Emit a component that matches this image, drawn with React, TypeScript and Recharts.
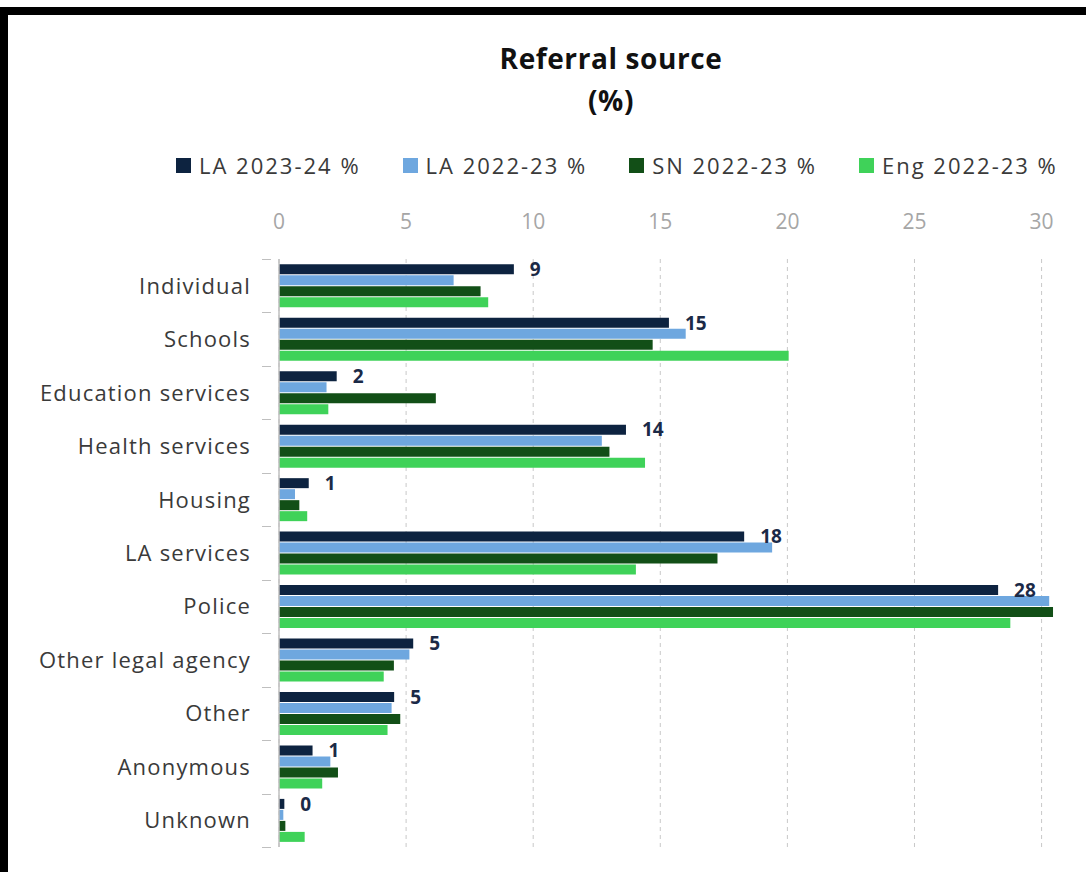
import React from 'react';
import { BarChart, Bar, XAxis, YAxis, CartesianGrid, Legend, LabelList } from 'recharts';

const categories = ['Individual', 'Schools', 'Education services', 'Health services', 'Housing', 'LA services', 'Police', 'Other legal agency', 'Other', 'Anonymous', 'Unknown'];
const la2324 = [9.24, 15.34, 2.27, 13.65, 1.17, 18.3, 28.29, 5.28, 4.53, 1.32, 0.21];
const la2223 = [6.87, 16.0, 1.87, 12.7, 0.63, 19.4, 30.3, 5.13, 4.43, 2.02, 0.17];
const sn2223 = [7.93, 14.7, 6.17, 13.0, 0.8, 17.25, 30.45, 4.52, 4.77, 2.32, 0.25];
const eng2223 = [8.23, 20.05, 1.94, 14.4, 1.11, 14.04, 28.77, 4.12, 4.27, 1.7, 1.01];
const xTicks = [0, 5, 10, 15, 20, 25, 30];
const X_MAX = 31;
const seriesNames = ['LA 2023-24 %', 'LA 2022-23 %', 'SN 2022-23 %', 'Eng 2022-23 %'];
const seriesColors = ['#0d2340', '#6ea7df', '#124f17', '#3fd259'];

const data = categories.map((c, i) => ({
  name: c,
  a: la2324[i],
  b: la2223[i],
  c: sn2223[i],
  d: eng2223[i],
}));

const FONT = '"Open Sans", "Noto Sans", sans-serif';
const BAND = 588 / categories.length;

const YTick = (props: any) => {
  const { x, y, payload, index } = props;
  const isLast = index === categories.length - 1;
  const y0 = Math.round(y - BAND / 2) + 0.5;
  const y1 = Math.round(y + BAND / 2) + 0.5;
  return (
    <g>
      <text x={x - 20} y={y} dy={8} textAnchor="end" fill="#3a3a3a" fontSize={22} fontFamily={FONT} style={{ letterSpacing: '1.2px' }}>
        {payload.value}
      </text>
      <line x1={x - 9} x2={x} y1={y0} y2={y0} stroke="#bfbfbf" strokeWidth={1} />
      {isLast && <line x1={x - 9} x2={x} y1={y1} y2={y1} stroke="#bfbfbf" strokeWidth={1} />}
    </g>
  );
};

const XTick = (props: any) => {
  const { x, y, payload } = props;
  return (
    <text x={x} y={y - 22} textAnchor="middle" fill="#a6a6a6" fontSize={21} fontFamily={FONT}>
      {payload.value}
    </text>
  );
};

const LegendContent = (props: any) => {
  const payload = [...(props.payload || [])].sort(
    (p: any, q: any) => seriesNames.indexOf(p.value) - seriesNames.indexOf(q.value)
  );
  return (
    <div style={{ display: 'flex', paddingLeft: 176, gap: 42, alignItems: 'center' }}>
      {payload.map((p: any, i: number) => (
        <div key={i} style={{ display: 'flex', alignItems: 'center' }}>
          <div style={{ width: 15, height: 15, background: p.color, marginRight: 8 }} />
          <span style={{ fontFamily: FONT, fontSize: 22, color: '#3a3a3a', letterSpacing: '2px', whiteSpace: 'nowrap' }}>{p.value}</span>
        </div>
      ))}
    </div>
  );
};

const gridX = ({ offset }: any) => xTicks.map((t) => offset.left + (t / X_MAX) * offset.width);

export default function App() {
  return (
    <div style={{ position: 'absolute', left: 0, top: 0, width: 1086, height: 872, background: '#fff', overflow: 'hidden' }}>
      <div style={{ position: 'absolute', left: 0, top: 7, width: 1200, height: 1000, borderTop: '8px solid #000', borderLeft: '8px solid #000', boxSizing: 'border-box' }} />
      <div style={{ position: 'absolute', left: 0, width: 1222, top: 37, textAlign: 'center', fontFamily: FONT, fontWeight: 700, fontSize: 28, color: '#111', letterSpacing: '0.6px', lineHeight: '42px' }}>
        <div>Referral source</div>
        <div>(%)</div>
      </div>
      <div style={{ position: 'absolute', left: 0, top: 0 }}>
        <BarChart
          width={1086}
          height={872}
          data={data}
          layout="vertical"
          margin={{ top: 219, right: 19, bottom: 25, left: 0 }}
          barCategoryGap="10%"
          barGap={1}
        >
          <CartesianGrid horizontal={false} strokeDasharray="4 4" stroke="#c8c8c8" verticalCoordinatesGenerator={gridX} />
          <XAxis type="number" orientation="top" domain={[0, X_MAX]} ticks={xTicks} axisLine={false} tickLine={false} height={40} tick={<XTick />} interval={0} />
          <YAxis type="category" dataKey="name" width={279} axisLine={{ stroke: '#bfbfbf', strokeWidth: 1.5 }} tickLine={false} tick={<YTick />} interval={0} />
          <Legend verticalAlign="middle" align="center" layout="horizontal" itemSorter={null as any} wrapperStyle={{ top: 150, left: 0, width: 1086 }} content={<LegendContent />} />
          <Bar dataKey="a" name={seriesNames[0]} fill={seriesColors[0]} isAnimationActive={false}>
            <LabelList dataKey="a" position="right" offset={16} formatter={(v: any) => Math.round(Number(v))} fill="#1b2a47" fontSize={19} fontWeight={700} fontFamily={FONT} />
          </Bar>
          <Bar dataKey="b" name={seriesNames[1]} fill={seriesColors[1]} isAnimationActive={false} />
          <Bar dataKey="c" name={seriesNames[2]} fill={seriesColors[2]} isAnimationActive={false} />
          <Bar dataKey="d" name={seriesNames[3]} fill={seriesColors[3]} isAnimationActive={false} />
        </BarChart>
      </div>
    </div>
  );
}
